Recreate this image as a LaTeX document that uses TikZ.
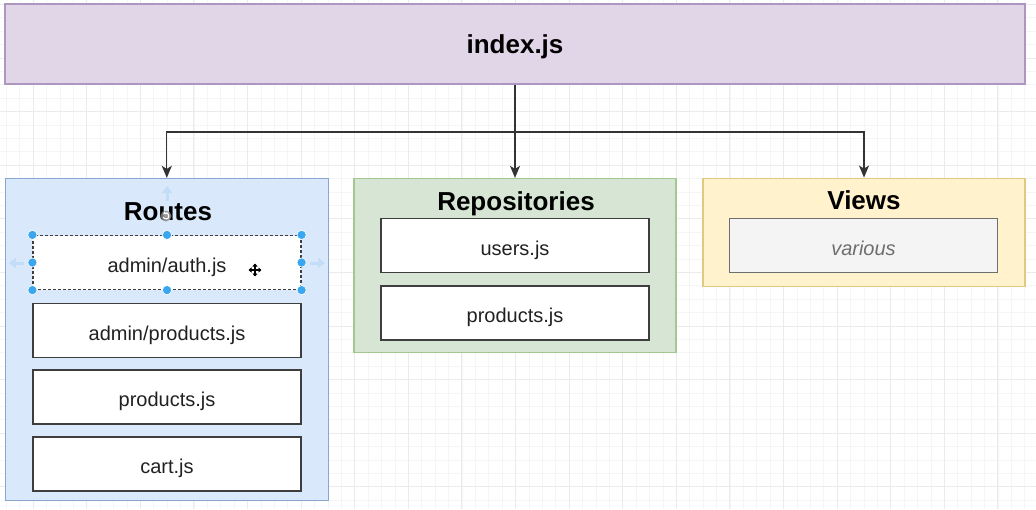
\documentclass[tikz,border=0pt]{standalone}
\usepackage{fontspec}
\setmainfont{Liberation Sans}
\usetikzlibrary{arrows.meta}
\definecolor{pfill}{HTML}{E1D6E8}\definecolor{pline}{HTML}{AE96C0}
\definecolor{bfill}{HTML}{DAE8FC}\definecolor{bline}{HTML}{8AA6D0}
\definecolor{gfill}{HTML}{D6E5D4}\definecolor{gline}{HTML}{A3C78F}
\definecolor{yfill}{HTML}{FFF2CC}\definecolor{yline}{HTML}{E3C97E}
\definecolor{grfill}{HTML}{F4F4F4}\definecolor{grline}{HTML}{6E6E6E}
\definecolor{inline}{HTML}{3E3E3E}
\definecolor{handle}{HTML}{3AA6F0}
\definecolor{ghost}{HTML}{C2DDF6}
\definecolor{minorg}{HTML}{F5F5F5}\definecolor{majorg}{HTML}{EBEBEB}
\begin{document}
\begin{tikzpicture}[x=1pt,y=-1pt,
  container/.style={draw, line width=1.3pt, inner sep=0pt},
  filebox/.style={draw=inline, fill=white, line width=1.6pt, minimum width=268pt, minimum height=54pt, inner sep=0pt, text height=19.5pt, text depth=0pt, text=black!87, font=\fontsize{20}{24}\selectfont},
  titletext/.style={anchor=base, inner sep=0pt, font=\bfseries\fontsize{26}{30}\selectfont},
  conn/.style={draw=black!80, line width=1.3pt, -{Stealth[length=12pt,width=10pt,inset=3pt]}},
  ghostarrow/.style={draw=ghost, line width=3pt, -{Triangle[length=7pt,width=10pt]}},
  handledot/.style={fill=handle, draw=white, line width=0.6pt},
  minorgrid/.style={draw=minorg, line width=0.8pt},
  majorgrid/.style={draw=majorg, line width=1pt}]
\useasboundingbox (0,0) rectangle (1036,509);
\fill[white] (0,0) rectangle (1036,509);
\begin{scope}
\clip (0,0) rectangle (1036,509);
\foreach \i in {0,...,77} {\draw[minorgrid] ({6.3+13.4*\i},0) -- ++(0,509);}
\foreach \i in {0,...,37} {\draw[minorgrid] (0,{4.4+13.4*\i}) -- ++(1036,0);}
\foreach \i in {0,...,19} {\draw[majorgrid] ({33.1+53.6*\i},0) -- ++(0,509);}
\foreach \i in {0,...,9} {\draw[majorgrid] (0,{4.4+53.6*\i}) -- ++(1036,0);}
\end{scope}

% top box
\node[container, draw=pline, fill=pfill, minimum width=1020pt, minimum height=80pt] (index) at (515,44) {};
\node[titletext] (indexT) at (515,53) {index.js};

% containers
\node[container, draw=bline, fill=bfill, minimum width=323pt, minimum height=322pt] (routes) at (166.8,339.5) {};
\node[container, draw=gline, fill=gfill, minimum width=322pt, minimum height=174pt] (repos) at (515,265.5) {};
\node[container, draw=yline, fill=yfill, minimum width=322pt, minimum height=108pt] (views) at (864,232.2) {};

\node[titletext] (routesT) at (168,220) {Routes};
\node[titletext] (reposT) at (516,210) {Repositories};
\node[titletext] (viewsT) at (864,209) {Views};

% routes files
\node[filebox, dash pattern=on 3pt off 2pt, line width=1.2pt] (auth) at (167,262.5) {admin/auth.js};
\node[filebox] (aprod) at (167,330.3) {admin/products.js};
\node[filebox] (prod) at (167,397.2) {products.js};
\node[filebox] (cart) at (167,464.2) {cart.js};

% repositories files
\node[filebox] (users) at (515,245.4) {users.js};
\node[filebox] (rprod) at (515,312.8) {products.js};

% views
\node[filebox, draw=grline, fill=grfill, line width=1.3pt, text=grline, font=\itshape\fontsize{20}{24}\selectfont] (various) at (863.5,245.4) {various};

% connectors
\coordinate (junction) at (515,132);
\draw[conn] (index.south) -- (repos.north);
\draw[conn] (junction) -| (routes.north);
\draw[conn] (junction) -| (views.north);

% selection decorations
\draw[ghostarrow] (167,201) -- (167,186);
\draw[ghostarrow] (24,263) -- (9,263);
\draw[ghostarrow] (310,263) -- (325,263);
\foreach \a in {north west, north, north east, west, east, south west, south, south east}
  {\fill[handledot] (auth.\a) circle (4.6pt);}

% rotate icon
\fill[black!45, opacity=0.8] (166,216) circle (5.5pt);
\draw[white, line width=1.2pt, -{Stealth[length=2.5pt,width=3pt]}] (166,216) ++(200:3pt) arc (200:500:3pt);

% move cursor
\coordinate (mv) at (255,270);
\foreach \d in {0,90,180,270}
  {\draw[black, line width=1.3pt, -{Triangle[length=3pt,width=5pt]}] (mv) -- ++(\d:6.5pt);}
\end{tikzpicture}
\end{document}
